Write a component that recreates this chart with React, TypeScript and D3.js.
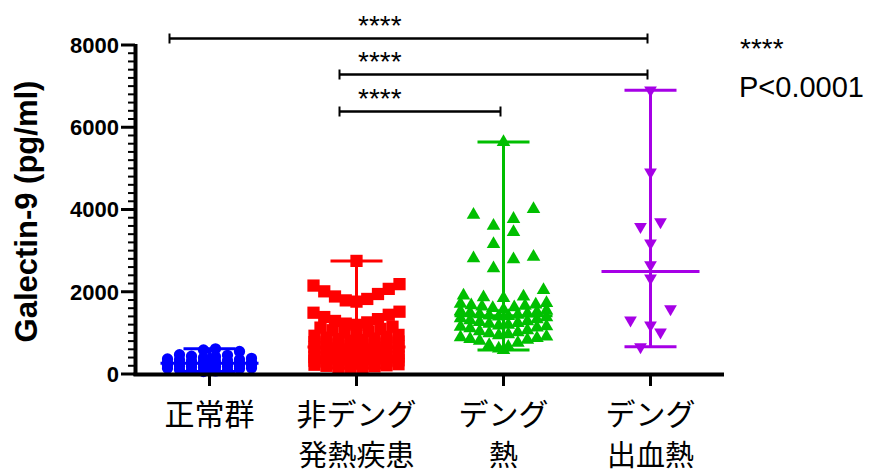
import React from "react";
import * as d3 from "d3";

// ---------- data ----------
const categoriesLine1 = ["正常群", "非デング", "デング", "デング"];
const categoriesLine2 = ["", "発熱疾患", "熱", "出血熱"];
const seriesColors = ["#0000ff", "#ff0000", "#00bf00", "#a600e6"];

const normalValues = [612, 585, 548, 470, 455, 432, 418, 395, 381, 366, 352, 347, 330, 322, 311, 298, 290, 284, 271, 263, 255, 246, 238, 229, 221, 214, 203, 196, 188, 177, 169, 158, 146, 137, 125, 112, 98, 86, 74, 61];

const nonDengueValues = [2750, 2185, 2150, 2070, 2010, 1945, 1885, 1825, 1790, 1760,
  1515, 1490, 1440, 1385, 1335, 1290, 1255, 1225, 1195,
  1150, 1128, 1097, 1064, 1032, 1005, 978, 951, 930, 905, 884, 862, 847, 826, 808, 791, 776, 758, 741, 727, 713, 698, 684, 671, 659, 646, 633, 621, 608, 596, 584, 572, 561, 549, 538, 526, 515, 503, 492, 481, 470, 458, 447, 436, 425, 414, 402, 391, 380, 369, 357, 346, 334, 322, 311, 299, 287, 275, 262, 250, 238, 225, 212, 199, 185, 171, 156, 140];

const dengueFeverValues = [5640, 4010, 3870, 3770, 3600, 3450, 3160, 2850, 2810, 2790, 2570, 2040,
  1905, 1880, 1862, 1848,
  1725, 1706, 1688, 1671, 1655, 1638, 1619, 1602,
  1566, 1545, 1522, 1503, 1488, 1469, 1452, 1437, 1421, 1410, 1398,
  1379, 1352, 1331, 1304, 1282, 1263, 1241, 1219, 1198, 1176, 1160, 1147, 1129, 1108,
  1062, 1038, 1012, 987, 963, 941, 912, 889, 871, 852, 829, 808,
  757, 702, 661, 618, 583];

const dhfValues = [6900, 4910, 3700, 3580, 3180, 2650, 2330, 1580, 1310, 1190, 1020, 660];

const yTickValues = [0, 2000, 4000, 6000, 8000];
const comparisonPairs: [number, number][] = [[0, 3], [1, 3], [1, 2]];
const comparisonLabels = ["****", "****", "****"];
const legendStars = "****";
const legendP = "P<0.0001";
const yAxisTitle = "Galectin-9 (pg/ml)";

const allSeries = [normalValues, nonDengueValues, dengueFeverValues, dhfValues];

// ---------- layout helper: GraphPad-like row scatter ----------
function rowSwarm(values: number[], cx: number, yScale: (v: number) => number, y0: number,
  binPx: number, sMax: number, maxHalf: number, cap: number) {
  const pts = values.map((v) => ({ v, y: yScale(v) }));
  const groups = d3.groups(pts, (p) => Math.floor((y0 - p.y) / binPx));
  const out: { x: number; y: number; v: number }[] = [];
  for (const [, g] of groups) {
    const sorted = g.slice().sort((a, b) => a.v - b.v);
    const m = Math.ceil(sorted.length / cap);
    const size = Math.ceil(sorted.length / m);
    for (let c = 0; c < m; c++) {
      const chunk = sorted.slice(c * size, (c + 1) * size);
      const n = chunk.length;
      const spacing = n > 1 ? Math.min(sMax, (2 * maxHalf) / (n - 1)) : 0;
      const slots = d3.range(n).map((j) => (j - (n - 1) / 2) * spacing)
        .sort((a, b) => (Math.abs(a) - Math.abs(b)) || (a - b));
      chunk.forEach((p, i) => out.push({ x: cx + slots[i], y: p.y, v: p.v }));
    }
  }
  return out;
}

export default function App() {
  const W = 873, H = 475;
  const x = d3.scalePoint<number>().domain([0, 1, 2, 3]).range([136, 724]).padding(0.5);
  const y = d3.scaleLinear().domain([0, 8000]).range([374, 45]);

  const symbols = [
    { path: d3.symbol(d3.symbolCircle, 100)()!, rot: 0, sMax: 12, cap: 9 },
    { path: d3.symbol(d3.symbolSquare, 150)()!, rot: 0, sMax: 12, cap: 9 },
    { path: d3.symbol(d3.symbolTriangle, 80)()!, rot: 0, sMax: 20, cap: 11 },
    { path: d3.symbol(d3.symbolTriangle, 70)()!, rot: 180, sMax: 20, cap: 9 },
  ];

  const minorTicks = d3.range(0, 8001, 200).filter((v) => v % 2000 !== 0);
  const axisFont = "'Liberation Sans', Arial, sans-serif";
  const cjkFont = "'Noto Sans CJK JP', sans-serif";

  const bracketLevels = [8170, 7290, 6400];
  const bracketLeftShift = [-40, -17, -17];

  return (
    <svg width={W} height={H} style={{ position: "absolute", left: 0, top: 0, background: "#fff" }}>
      <rect x={0} y={0} width={W} height={H} fill="#fff" />

      {/* points with median & range */}
      {allSeries.map((vals, i) => {
        const cx = x(i)!;
        const sym = symbols[i];
        const pts = rowSwarm(vals, cx, y, 374, 24, sym.sMax, 43, sym.cap);
        const mn = d3.min(vals)!, mx = d3.max(vals)!, md = d3.median(vals)!;
        const col = seriesColors[i];
        return (
          <g key={i}>
            {pts.map((p, j) => (
              <path key={j} d={sym.path} fill={col} transform={`translate(${p.x},${p.y}) rotate(${sym.rot})`} />
            ))}
            <line x1={cx} x2={cx} y1={y(mn)} y2={y(mx)} stroke={col} strokeWidth={3} />
            <line x1={cx - 26} x2={cx + 26} y1={y(mn)} y2={y(mn)} stroke={col} strokeWidth={3} />
            <line x1={cx - 26} x2={cx + 26} y1={y(mx)} y2={y(mx)} stroke={col} strokeWidth={3} />
            <line x1={cx - 49} x2={cx + 49} y1={y(md)} y2={y(md)} stroke={col} strokeWidth={3} />
          </g>
        );
      })}

      {/* y axis */}
      <line x1={135.5} x2={135.5} y1={y(8000) - 1} y2={y(0) + 2} stroke="#000" strokeWidth={4} />
      {minorTicks.map((v) => (
        <line key={v} x1={128} x2={135} y1={y(v)} y2={y(v)} stroke="#000" strokeWidth={2} />
      ))}
      {yTickValues.map((v) => (
        <g key={v}>
          <line x1={121} x2={135} y1={y(v)} y2={y(v)} stroke="#000" strokeWidth={3} />
          <text x={119} y={y(v)} dy="0.36em" textAnchor="end" fontFamily={axisFont} fontWeight="bold" fontSize={22} fill="#000">{v}</text>
        </g>
      ))}
      <text transform={`translate(37,211.5) rotate(-90)`} textAnchor="middle" fontFamily={axisFont} fontWeight="bold" fontSize={31} fill="#000">{yAxisTitle}</text>

      {/* x axis */}
      <line x1={133.5} x2={724} y1={374.5} y2={374.5} stroke="#000" strokeWidth={4} />
      {categoriesLine1.map((c, i) => (
        <g key={i}>
          <line x1={x(i)!} x2={x(i)!} y1={374} y2={386} stroke="#000" strokeWidth={3} />
          <text x={x(i)!} y={425} textAnchor="middle" fontFamily={cjkFont} fontSize={30} fill="#000">{c}</text>
          {categoriesLine2[i] && (
            <text x={x(i)!} y={466} textAnchor="middle" fontFamily={cjkFont} fontSize={29} fill="#000">{categoriesLine2[i]}</text>
          )}
        </g>
      ))}

      {/* significance brackets */}
      {comparisonPairs.map(([a, b], k) => {
        const yy = Math.round(y(bracketLevels[k])) + 0.5;
        const x1 = x(a)! + bracketLeftShift[k];
        const x2 = x(b)! - 3;
        return (
          <g key={k}>
            <line x1={x1} x2={x2} y1={yy} y2={yy} stroke="#000" strokeWidth={2.5} />
            <line x1={x1} x2={x1} y1={yy - 5} y2={yy + 5} stroke="#000" strokeWidth={2} />
            <line x1={x2} x2={x2} y1={yy - 5} y2={yy + 5} stroke="#000" strokeWidth={2} />
            <text x={358} y={yy - 4} fontFamily={axisFont} fontSize={28} fill="#000">{comparisonLabels[k]}</text>
          </g>
        );
      })}

      {/* legend note */}
      <text x={740} y={58} fontFamily={axisFont} fontSize={28} fill="#000">{legendStars}</text>
      <text x={739} y={97} fontFamily={axisFont} fontSize={29} fill="#000">{legendP}</text>
    </svg>
  );
}
